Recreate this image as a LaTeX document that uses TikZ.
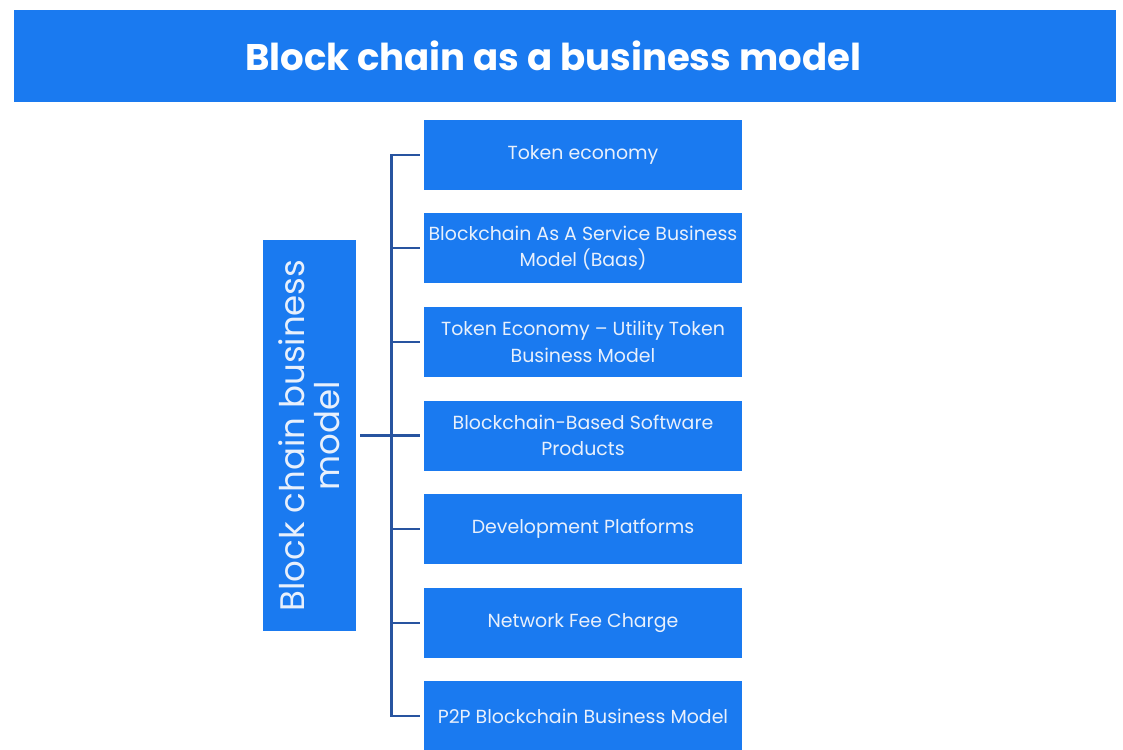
\documentclass[tikz,border=0pt]{standalone}
\usepackage{fontspec}
\setmainfont{Poppins}
\definecolor{boxblue}{RGB}{26,122,240}
\definecolor{linecol}{RGB}{40,84,160}
\definecolor{txtcol}{RGB}{232,240,252}
\begin{document}
\begin{tikzpicture}[x=0.75pt,y=-0.75pt,
  bluebox/.style={fill=boxblue, draw=none, minimum width=318*0.75pt, minimum height=70*0.75pt,
    text=txtcol, align=center, inner sep=0pt, font=\fontsize{14.2}{20}\selectfont},
  conn/.style={draw=linecol, line width=2.2pt},
  titletext/.style={text=white, font=\fontsize{27.8}{34}\bfseries\selectfont, inner sep=0pt}]
\useasboundingbox (0,0) rectangle (1123,749);
\fill[boxblue] (14,10) rectangle (1116,102);
\node[titletext] (title) at (553,56) {Block chain as a business model};

\node[bluebox] (b1) at (583,155) {Token economy};
\node[bluebox] (b2) at (583,248) {Blockchain As A Service Business\\Model (Baas)};
\node[bluebox] (b3) at (583,342) {Token Economy – Utility Token\\Business Model};
\node[bluebox] (b4) at (583,435.5) {Blockchain-Based Software\\Products};
\node[bluebox] (b5) at (583,529) {Development Platforms};
\node[bluebox] (b6) at (583,623) {Network Fee Charge};
\node[bluebox] (b7) at (583,716) {P2P Blockchain Business Model};

\node[fill=boxblue, minimum width=93*0.75pt, minimum height=391*0.75pt, inner sep=0pt] (left) at (309.5,435.5) {};
\node[rotate=90, text=txtcol, align=center, font=\fontsize{25.5}{26}\selectfont, inner sep=0pt] (lefttext) at (left.center) {Block chain business\\model};

\draw[conn] ([xshift=-3pt]b1.west) -- ++(-28,0) |- ([xshift=-3pt]b7.west);
\foreach \i in {2,3,5,6} {
  \draw[conn] ([xshift=-3pt]b\i.west) -- ++(-29,0);
}
\draw[conn] ([xshift=3pt]left.east) -- ([xshift=-3pt]b4.west);
\end{tikzpicture}
\end{document}
